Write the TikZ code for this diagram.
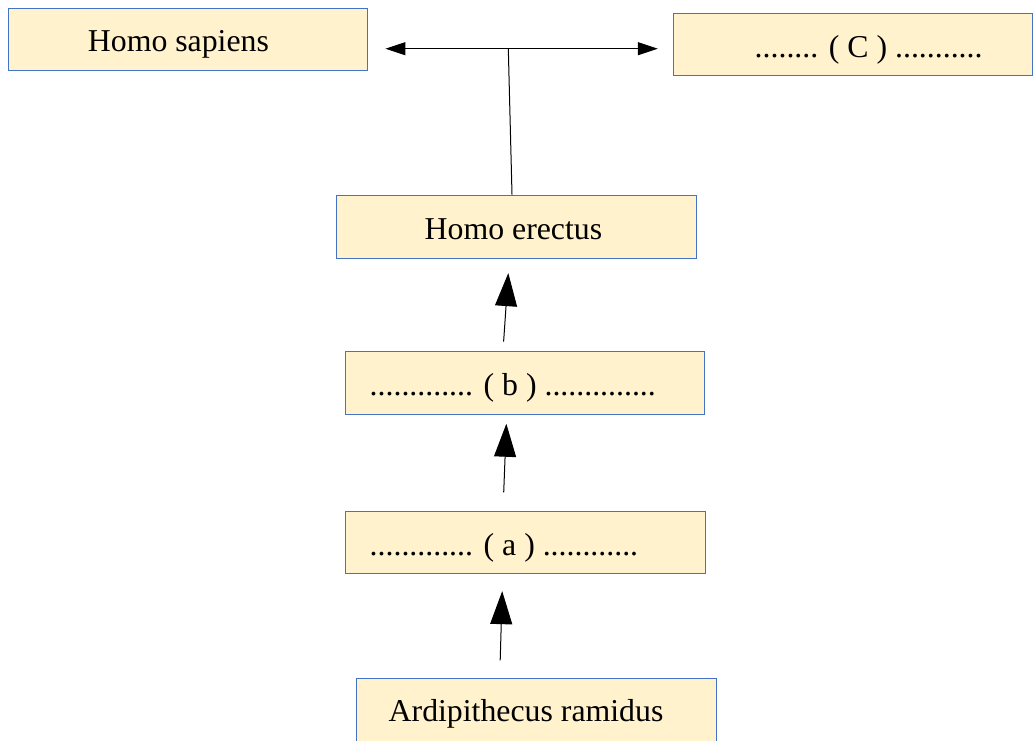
\documentclass[tikz,border=0pt]{standalone}
\usepackage{fontspec}
\setmainfont{Liberation Serif}
\usetikzlibrary{arrows.meta}
\definecolor{boxfill}{HTML}{FFF2CC}
\definecolor{boxline}{HTML}{4472C4}
\tikzset{
  box/.style={draw=boxline, fill=boxfill, line width=0.9pt, inner sep=0pt},
  txt/.style={inner sep=0pt, anchor=base west, font=\fontsize{31.8}{38}\selectfont},
  link/.style={line width=1pt, black},
  bigarrow/.style={link, -{Triangle[length=33pt, width=22pt]}},
  smallarrow/.style={link, -{Triangle[length=20pt, width=13pt]}},
}
\begin{document}
\begin{tikzpicture}[x=1pt, y=-1pt]
\useasboundingbox (0,0) rectangle (1033,740);
\clip (0,0) rectangle (1033,740);
% boxes
\node[box, minimum width=359pt, minimum height=62pt] (sapiens) at (187.5,39) {};
\node[box, minimum width=359.5pt, minimum height=62pt] (cbox) at (852.75,44) {};
\node[box, minimum width=360pt, minimum height=63pt] (erectus) at (516,226.5) {};
\node[box, minimum width=359pt, minimum height=63pt] (bbox) at (524.5,382.5) {};
\node[box, minimum width=360pt, minimum height=62pt] (abox) at (525,542) {};
\node[box, minimum width=360pt, minimum height=63pt] (ardi) at (536,709.5) {};
% texts
\node[txt] (sapiens-t) at (87.7,51.7) {Homo sapiens};
\node[txt] (cbox-t) at (754.5,57) {........ ( C ) ...........};
\node[txt] (erectus-t) at (424.5,239.5) {Homo erectus};
\node[txt] (bbox-t) at (369.5,395) {............. ( b ) ..............};
\node[txt] (abox-t) at (369.5,555) {............. ( a ) ............};
\node[txt] (ardi-t) at (388.5,721.7) {Ardipithecus ramidus};
% connectors
\coordinate (fork) at (508.3,48.7);
\draw[link] ([xshift=-4pt]erectus.north) -- (fork);
\draw[smallarrow, shorten >=18pt] (fork) -- (sapiens.east |- fork);
\draw[smallarrow, shorten >=14.7pt] (fork) -- (cbox.west |- fork);
\draw[bigarrow, shorten <=17.3pt, shorten >=17.7pt] ([xshift=-36.3pt]ardi.north) -- ([xshift=-22.3pt]abox.south);
\draw[bigarrow, shorten <=18.3pt, shorten >=9.3pt] ([xshift=-22pt]abox.north) -- ([xshift=-17.8pt]bbox.south);
\draw[bigarrow, shorten <=9pt, shorten >=14.7pt] ([xshift=-21.5pt]bbox.north) -- ([xshift=-6.7pt]erectus.south);
\end{tikzpicture}
\end{document}
